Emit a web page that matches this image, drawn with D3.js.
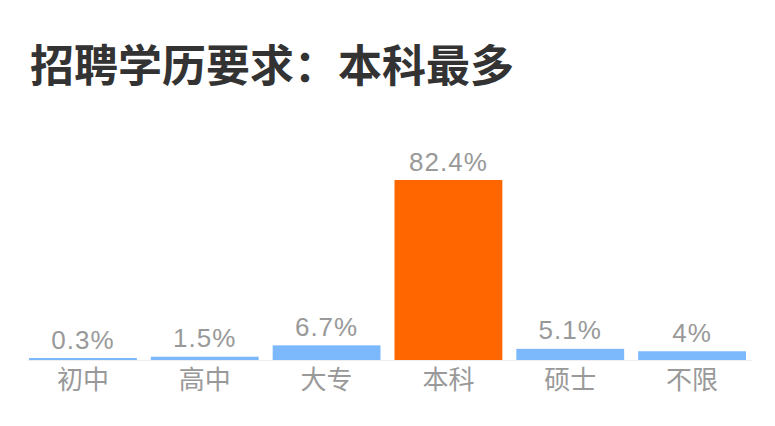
<!DOCTYPE html>
<html>
<head>
<meta charset="utf-8">
<script src="https://cdn.jsdelivr.net/npm/d3@7"></script>
<style>
  body { margin: 0; background: #fff; }
</style>
</head>
<body>
<div id="chart"></div>
<script>
// chart data
var title = "招聘学历要求：本科最多";
var categories = ["初中", "高中", "大专", "本科", "硕士", "不限"];
var values = [0.3, 1.5, 6.7, 82.4, 5.1, 4];
var labels = ["0.3%", "1.5%", "6.7%", "82.4%", "5.1%", "4%"];
var highlight = "本科";

var width = 775, height = 426;

var svg = d3.select("#chart")
  .append("svg")
  .attr("width", width)
  .attr("height", height);

svg.append("text")
  .text(title)
  .attr("x", 30)
  .attr("y", 82)
  .style("font-family", "'Noto Sans CJK SC', sans-serif")
  .style("font-weight", "bold")
  .style("font-size", "44px")
  .style("fill", "#333");

var x = d3.scaleBand()
  .domain(categories)
  .range([22, 753])
  .paddingInner(0.115)
  .paddingOuter(0.0575);

var y = d3.scaleLinear()
  .domain([0, d3.max(values)])
  .range([360, 180]);

// bars never thinner than this, so tiny values stay visible
var minBar = 2;
function barTop(v) { return Math.min(y(v), y(0) - minBar); }

// baseline
svg.append("line")
  .attr("x1", 28)
  .attr("x2", 752)
  .attr("y1", y(0) + 0.5)
  .attr("y2", y(0) + 0.5)
  .style("stroke", "#eee")
  .style("stroke-width", 1);

var data = categories.map(function(c, i) {
  return {name: c, value: values[i], label: labels[i]};
});

svg.selectAll(".bar")
  .data(data)
  .enter().append("rect")
  .attr("class", "bar")
  .attr("x", function(d) { return x(d.name); })
  .attr("y", function(d) { return barTop(d.value); })
  .attr("width", x.bandwidth())
  .attr("height", function(d) { return y(0) - barTop(d.value); })
  .attr("fill", function(d) { return d.name == highlight ? "#ff6600" : "#7cb8fc"; });

svg.selectAll(".value")
  .data(data)
  .enter().append("text")
  .attr("class", "value")
  .text(function(d) { return d.label; })
  .attr("x", function(d) { return x(d.name) + x.bandwidth() / 2; })
  .attr("y", function(d) { return barTop(d.value) - 9.5; })
  .attr("text-anchor", "middle")
  .style("font-family", "'Liberation Sans', Arial, sans-serif")
  .style("font-size", "26px")
  .style("letter-spacing", "1px")
  .style("fill", "#999");

svg.selectAll(".cat")
  .data(data)
  .enter().append("text")
  .attr("class", "cat")
  .text(function(d) { return d.name; })
  .attr("x", function(d) { return x(d.name) + x.bandwidth() / 2; })
  .attr("y", 389)
  .attr("text-anchor", "middle")
  .style("font-family", "'Noto Sans CJK SC', sans-serif")
  .style("font-size", "26px")
  .style("fill", "#999");
</script>
</body>
</html>
